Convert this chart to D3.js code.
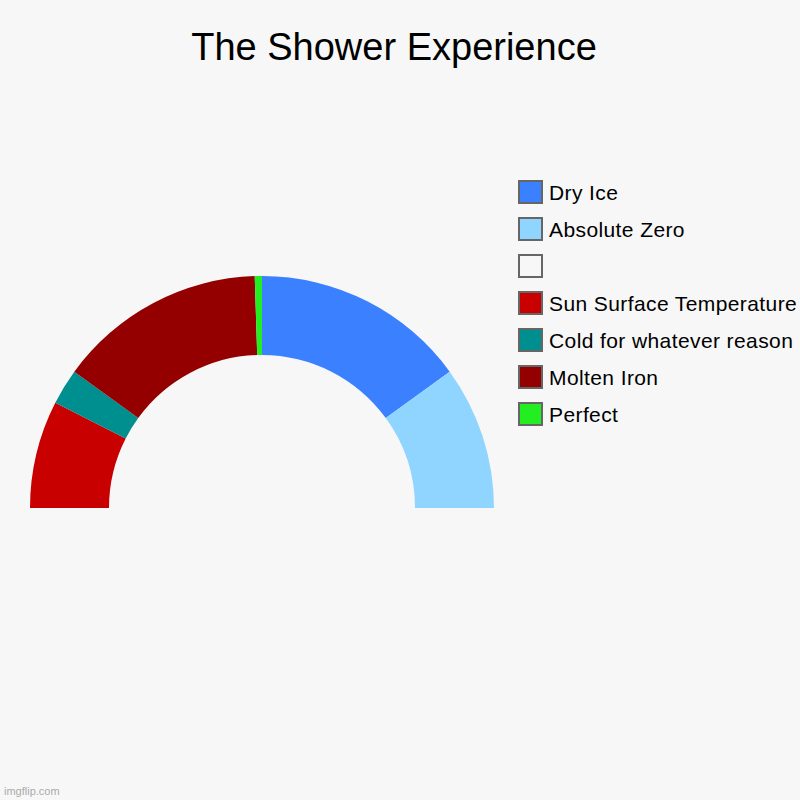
<!DOCTYPE html>
<html>
<head>
<meta charset="utf-8">
<script src="https://cdn.jsdelivr.net/npm/d3@7"></script>
<style>
  body { margin: 0; background: #f7f7f7; }
  svg { display: block; font-family: "Liberation Sans", Arial, sans-serif; }
</style>
</head>
<body>
<div id="vis-container"></div>
<script>
const width = 800,
    height = 800;

// slices in drawing order, the blank one fills the hidden lower half
var labels = ["Dry Ice", "Absolute Zero", "", "Sun Surface Temperature", "Cold for whatever reason", "Molten Iron", "Perfect"];
var values = [30, 20, 100, 15, 5, 29, 1];
var colors = ["#3b80ff", "#90d5ff", "#f7f7f7", "#c80000", "#008f8f", "#940000", "#22ee22"];

var data = labels.map(function(l, i) { return {label: l, value: values[i]}; });

var svg = d3.select("#vis-container").append("svg")
    .attr("width", width)
    .attr("height", height);

svg.append("rect")
    .attr("width", width)
    .attr("height", height)
    .attr("fill", "#f7f7f7");

svg.append("text")
    .attr("x", 394)
    .attr("y", 60)
    .attr("text-anchor", "middle")
    .attr("font-size", 38)
    .attr("fill", "#000")
    .text("The Shower Experience");

var pie = d3.pie()
    .sort(null)
    .value(function(d) { return d.value; });

var arc = d3.arc()
    .innerRadius(153)
    .outerRadius(232);

var g = svg.append("g")
    .attr("transform", "translate(262,508)");

g.selectAll("path")
    .data(pie(data))
    .enter().append("path")
    .attr("d", arc)
    .attr("fill", function(d, i) { return colors[i]; })
    .attr("fill-opacity", function(d, i) { return labels[i] === "" ? 0 : 1; });

// legend
var legend = svg.append("g")
    .attr("transform", "translate(519,181)");

var item = legend.selectAll("g")
    .data(labels)
    .enter().append("g")
    .attr("transform", function(d, i) { return "translate(0," + (i * 37) + ")"; });

item.append("rect")
    .attr("width", 23)
    .attr("height", 22)
    .attr("fill", function(d, i) { return colors[i]; })
    .attr("stroke", "#666")
    .attr("stroke-width", 2);

item.append("text")
    .attr("x", 30)
    .attr("y", 19)
    .attr("font-size", 21)
    .attr("letter-spacing", 0.4)
    .attr("fill", "#000")
    .text(function(d) { return d; });

svg.append("text")
    .attr("x", 4)
    .attr("y", 795)
    .attr("font-size", 11)
    .attr("fill", "#aaa")
    .text("imgflip.com");
</script>
</body>
</html>
